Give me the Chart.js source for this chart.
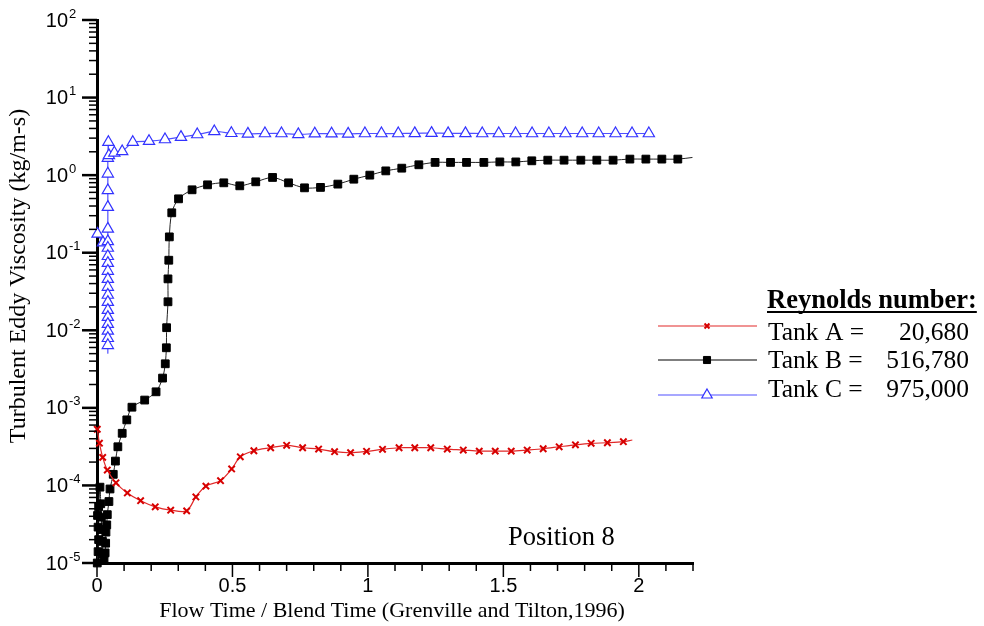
<!DOCTYPE html>
<html>
<head>
<meta charset="utf-8">
<script src="https://cdn.jsdelivr.net/npm/chart.js@4.4.1/dist/chart.umd.min.js"></script>
<style>
  html, body { margin: 0; padding: 0; background: #fff; }
  #wrap { width: 984px; height: 626px; }
</style>
</head>
<body>
<div id="wrap"><canvas id="viscChart" width="984" height="626"></canvas></div>
<script>
// Tank A (Re = 20,680)
const tankA_x = [0.001, 0.009, 0.021, 0.038, 0.070, 0.112, 0.161, 0.215, 0.272, 0.331, 0.365, 0.402, 0.456, 0.497, 0.529, 0.579, 0.641, 0.700, 0.759, 0.818, 0.877, 0.936, 0.995, 1.054, 1.115, 1.173, 1.232, 1.293, 1.352, 1.411, 1.470, 1.529, 1.588, 1.647, 1.706, 1.766, 1.824, 1.884, 1.943, 1.976];
const tankA_y = [5.3e-4, 3.5e-4, 2.3e-4, 1.58e-4, 1.08e-4, 8.0e-5, 6.35e-5, 5.3e-5, 4.8e-5, 4.7e-5, 7.1e-5, 9.8e-5, 1.15e-4, 1.63e-4, 2.34e-4, 2.8e-4, 3.06e-4, 3.29e-4, 3.06e-4, 2.94e-4, 2.72e-4, 2.64e-4, 2.75e-4, 2.92e-4, 3.06e-4, 3.06e-4, 3.06e-4, 2.94e-4, 2.86e-4, 2.77e-4, 2.77e-4, 2.77e-4, 2.86e-4, 2.97e-4, 3.15e-4, 3.34e-4, 3.49e-4, 3.55e-4, 3.66e-4, 3.85e-4];

// Tank B (Re = 516,780)
const tankB_x = [0.001, 0.004, 0.006, 0.004, 0.002, 0.006, 0.011, 0.014, 0.016, 0.018, 0.020, 0.022, 0.026, 0.030, 0.032, 0.033, 0.036, 0.038, 0.044, 0.048, 0.060, 0.068, 0.077, 0.093, 0.110, 0.129, 0.176, 0.218, 0.242, 0.252, 0.256, 0.257, 0.262, 0.262, 0.265, 0.267, 0.276, 0.301, 0.351, 0.408, 0.468, 0.527, 0.586, 0.648, 0.707, 0.766, 0.825, 0.889, 0.948, 1.007, 1.066, 1.125, 1.188, 1.248, 1.305, 1.364, 1.428, 1.487, 1.546, 1.605, 1.664, 1.724, 1.786, 1.845, 1.905, 1.967, 2.026, 2.085, 2.144, 2.198];
const tankB_y = [1.0e-5, 1.4e-5, 2.0e-5, 2.9e-5, 4.1e-5, 5.3e-5, 9.5e-5, 5.8e-5, 3.9e-5, 2.7e-5, 1.9e-5, 1.3e-5, 1.1e-5, 1.35e-5, 1.8e-5, 2.5e-5, 3.1e-5, 4.2e-5, 6.2e-5, 9.0e-5, 1.39e-4, 2.06e-4, 3.15e-4, 4.7e-4, 7.0e-4, 1.02e-3, 1.26e-3, 1.61e-3, 2.42e-3, 3.7e-3, 5.95e-3, 1.08e-2, 2.33e-2, 4.6e-2, 8.0e-2, 0.160, 0.327, 0.495, 0.647, 0.75, 0.796, 0.728, 0.82, 0.934, 0.796, 0.686, 0.695, 0.766, 0.887, 1.0, 1.135, 1.23, 1.36, 1.46, 1.46, 1.46, 1.46, 1.48, 1.48, 1.53, 1.56, 1.56, 1.56, 1.56, 1.56, 1.61, 1.61, 1.61, 1.61, 1.69];

// Tank C (Re = 975,000)
const tankC_x = [0.002, 0.022, 0.040, 0.040, 0.040, 0.040, 0.040, 0.040, 0.040, 0.040, 0.040, 0.040, 0.040, 0.040, 0.040, 0.040, 0.040, 0.040, 0.040, 0.040, 0.040, 0.040, 0.040, 0.042, 0.044, 0.064, 0.093, 0.132, 0.192, 0.251, 0.310, 0.370, 0.433, 0.496, 0.557, 0.620, 0.681, 0.743, 0.804, 0.866, 0.927, 0.989, 1.050, 1.112, 1.173, 1.235, 1.296, 1.360, 1.422, 1.483, 1.545, 1.606, 1.668, 1.729, 1.791, 1.852, 1.914, 1.975, 2.037];
const tankC_y = [0.175, 0.135, 0.14, 0.115, 0.090, 0.0735, 0.058, 0.0457, 0.0361, 0.0285, 0.0231, 0.0182, 0.0148, 0.012, 0.0098, 0.0079, 0.0064, 0.0051, 0.203, 0.387, 0.635, 1.04, 1.66, 2.66, 1.8, 1.94, 2.02, 2.66, 2.74, 2.88, 3.09, 3.34, 3.66, 3.47, 3.40, 3.44, 3.44, 3.35, 3.42, 3.42, 3.40, 3.44, 3.44, 3.44, 3.46, 3.48, 3.46, 3.46, 3.44, 3.44, 3.44, 3.44, 3.44, 3.44, 3.44, 3.44, 3.44, 3.44, 3.44];

// points that carry no symbol (curve ends / turning point)
const unmarkedA = [39];
const unmarkedB = [69];
const unmarkedC = [17];

const seriesNames = ['Tank A =', 'Tank B =', 'Tank C ='];
const reynolds = ['20,680', '516,780', '975,000'];
const legendTitle = 'Reynolds number:';
const positionLabel = 'Position 8';

const xTickValues = [0, 0.5, 1, 1.5, 2];
const xTickLabels = ['0', '0.5', '1', '1.5', '2'];
const yDecades = [-5, -4, -3, -2, -1, 0, 1, 2];

const xTitle = 'Flow Time / Blend Time (Grenville and Tilton,1996)';
const yTitle = 'Turbulent Eddy Viscosity (kg/m-s)';

const toPoints = (xs, ys) => xs.map((x, i) => ({ x, y: ys[i] }));

const RED = 'rgb(215,0,0)';
const RED_LINE = 'rgb(225,40,40)';
const BLUE = 'rgb(50,50,255)';
const BLUE_LINE = 'rgb(80,80,255)';

// draws tick marks, tick labels, axis titles, legend and annotation
const decorations = {
  id: 'decorations',
  afterDraw(chart) {
    const { ctx, scales: { x, y } } = chart;
    const a = chart.chartArea;
    ctx.save();
    ctx.strokeStyle = '#000';
    ctx.fillStyle = '#000';

    // x ticks
    ctx.lineWidth = 1.5;
    for (let i = 0; i <= 22; i++) {
      const v = i / 10;
      const px = x.getPixelForValue(v);
      const major = i % 5 === 0;
      ctx.beginPath();
      ctx.moveTo(px, a.bottom);
      ctx.lineTo(px, a.bottom + (major ? 14 : 8));
      ctx.stroke();
    }
    ctx.font = '20px "Liberation Sans", Arial, sans-serif';
    ctx.textAlign = 'center';
    ctx.textBaseline = 'middle';
    xTickValues.forEach((v, i) => {
      ctx.fillText(xTickLabels[i], x.getPixelForValue(v), a.bottom + 23);
    });

    // y ticks
    yDecades.forEach(d => {
      const mults = d === 2 ? [1] : [1, 2, 3, 4, 5, 6, 7, 8, 9];
      mults.forEach(m => {
        const py = y.getPixelForValue(m * Math.pow(10, d));
        ctx.beginPath();
        ctx.lineWidth = m === 1 ? 2.5 : 1.5;
        ctx.moveTo(a.left, py);
        ctx.lineTo(a.left - (m === 1 ? 15 : 8), py);
        ctx.stroke();
      });
      const py = y.getPixelForValue(Math.pow(10, d));
      ctx.textAlign = 'right';
      ctx.textBaseline = 'middle';
      ctx.font = '20px "Liberation Sans", Arial, sans-serif';
      ctx.fillText('10', 68, py + 1);
      ctx.textAlign = 'left';
      ctx.font = '13px "Liberation Sans", Arial, sans-serif';
      ctx.fillText(String(d), 69, py - 6);
    });

    // axis titles
    ctx.font = '22px "Liberation Serif", "Times New Roman", serif';
    ctx.textAlign = 'center';
    ctx.textBaseline = 'middle';
    ctx.fillText(xTitle, 392, 611);
    ctx.save();
    ctx.font = '24px "Liberation Serif", "Times New Roman", serif';
    ctx.translate(19, 276);
    ctx.rotate(-Math.PI / 2);
    ctx.fillText(yTitle, 0, 0);
    ctx.restore();

    // annotation
    ctx.font = '26.5px "Liberation Serif", "Times New Roman", serif';
    ctx.textAlign = 'left';
    ctx.fillText(positionLabel, 508, 538);

    // legend
    ctx.font = 'bold 26.5px "Liberation Serif", "Times New Roman", serif';
    ctx.textBaseline = 'alphabetic';
    ctx.fillText(legendTitle, 767, 308);
    const tw = ctx.measureText(legendTitle).width;
    ctx.lineWidth = 2;
    ctx.beginPath();
    ctx.moveTo(767, 312);
    ctx.lineTo(767 + tw, 312);
    ctx.stroke();

    const rows = [
      { lineY: 326, textY: 340, line: RED_LINE, style: 'crossRot', r: 3.5, stroke: RED, fill: RED, bw: 2 },
      { lineY: 360, textY: 368, line: '#000', style: 'rect', r: 5, stroke: '#000', fill: '#000', bw: 1 },
      { lineY: 395, textY: 397, line: BLUE_LINE, style: 'triangle', r: 6, stroke: BLUE, fill: '#fff', bw: 1.2 }
    ];
    ctx.font = '25.5px "Liberation Serif", "Times New Roman", serif';
    rows.forEach((row, i) => {
      ctx.strokeStyle = row.line;
      ctx.lineWidth = 1.2;
      ctx.beginPath();
      ctx.moveTo(658, row.lineY);
      ctx.lineTo(757, row.lineY);
      ctx.stroke();
      ctx.strokeStyle = row.stroke;
      ctx.fillStyle = row.fill;
      ctx.lineWidth = row.bw;
      Chart.helpers.drawPoint(ctx, { pointStyle: row.style, radius: row.r, rotation: 0, borderWidth: row.bw }, 707, row.lineY);
      ctx.fillStyle = '#000';
      ctx.textAlign = 'left';
      ctx.fillText(seriesNames[i], 768, row.textY);
      ctx.textAlign = 'right';
      ctx.fillText(reynolds[i], 969, row.textY);
    });
    ctx.restore();
  }
};

const radiusFor = (skip, r) => ctx => skip.includes(ctx.dataIndex) ? 0 : r;

new Chart(document.getElementById('viscChart'), {
  type: 'line',
  data: {
    datasets: [
      {
        label: 'Tank A',
        data: toPoints(tankA_x, tankA_y),
        borderColor: RED_LINE,
        borderWidth: 1.2,
        pointStyle: 'crossRot',
        pointRadius: radiusFor(unmarkedA, 4.5),
        pointBorderColor: RED,
        pointBorderWidth: 2,
        pointBackgroundColor: RED,
        tension: 0.3,
        clip: 12
      },
      {
        label: 'Tank B',
        data: toPoints(tankB_x, tankB_y),
        borderColor: '#222',
        borderWidth: 1,
        pointStyle: 'rect',
        pointRadius: radiusFor(unmarkedB, 5.5),
        pointBorderColor: '#000',
        pointBorderWidth: 1,
        pointBackgroundColor: '#000',
        tension: 0.3,
        clip: 12
      },
      {
        label: 'Tank C',
        data: toPoints(tankC_x, tankC_y),
        borderColor: BLUE_LINE,
        borderWidth: 1.2,
        pointStyle: 'triangle',
        pointRadius: radiusFor(unmarkedC, 6.5),
        pointBorderColor: BLUE,
        pointBorderWidth: 1.2,
        pointBackgroundColor: '#fff',
        tension: 0.2,
        clip: 12
      }
    ]
  },
  options: {
    responsive: false,
    animation: false,
    layout: { padding: { top: 20, right: 291, left: 0, bottom: 0 } },
    plugins: { legend: { display: false }, tooltip: { enabled: false } },
    scales: {
      x: {
        type: 'linear',
        min: 0,
        max: 2.2,
        grid: { display: false },
        border: { display: true, color: '#000', width: 3 },
        ticks: { display: false },
        afterFit: s => { s.height = 63; }
      },
      y: {
        type: 'logarithmic',
        min: 1e-5,
        max: 100,
        grid: { display: false },
        border: { display: true, color: '#000', width: 3 },
        ticks: { display: false },
        afterFit: s => { s.width = 97; }
      }
    }
  },
  plugins: [decorations]
});
</script>
</body>
</html>
